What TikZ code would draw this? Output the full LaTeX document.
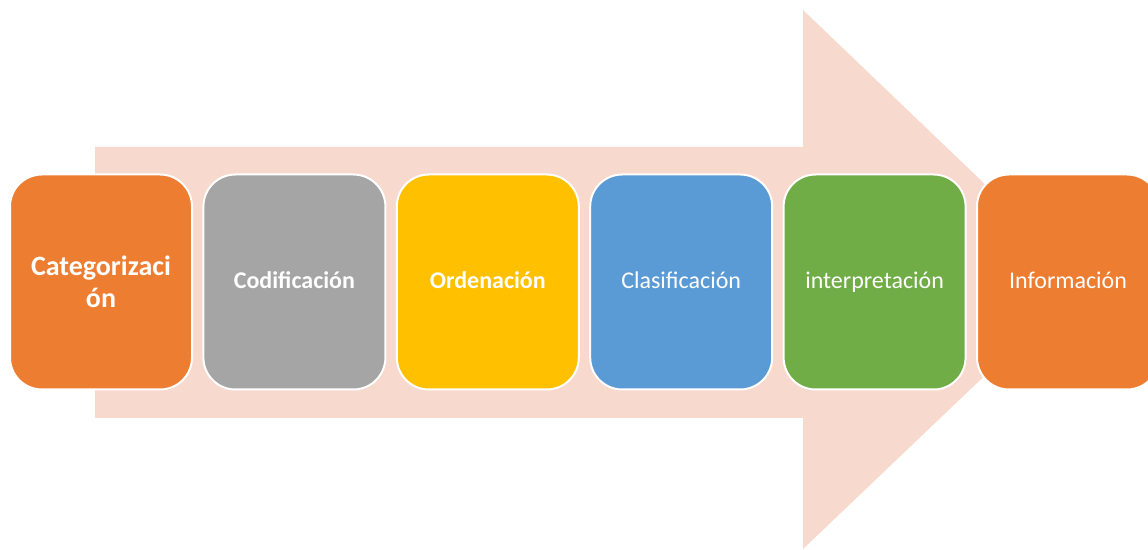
\documentclass[tikz,border=0pt]{standalone}
\usepackage{fontspec}
\setmainfont{Carlito}
\usetikzlibrary{positioning}
\definecolor{arrowpink}{HTML}{F8D9CE}
\definecolor{orangebox}{HTML}{ED7D31}
\definecolor{graybox}{HTML}{A5A5A5}
\definecolor{yellowbox}{HTML}{FFC000}
\definecolor{bluebox}{HTML}{5B9BD5}
\definecolor{greenbox}{HTML}{70AD47}

\begin{document}
\begin{tikzpicture}[x=1pt,y=1pt,node distance=9.4pt,
    stage/.style={rounded corners=32pt,draw=white,line width=2pt,
        minimum width=182pt,minimum height=215pt,inner sep=0pt,
        text height=19pt,text depth=5pt,
        text=white,align=center,font=\fontsize{24}{29}\selectfont},
    boldstage/.style={stage,font=\fontsize{24}{29}\selectfont\bfseries}]
    \useasboundingbox (0,0) rectangle (1148,549);
    \clip (0,0) rectangle (1148,549);

    % big arrow behind the stages
    \fill[arrowpink] (95,131) -- (803,131) -- (803,0) -- (1085,269)
        -- (803,539) -- (803,402) -- (95,402) -- cycle;

    \node[boldstage,fill=orangebox,text height=,text depth=,
        font=\fontsize{28}{32}\selectfont\bfseries] (cat) at (101,267) {Categorizaci\\ón};
    \node[boldstage,fill=graybox,right=of cat] (cod) {Codificación};
    \node[boldstage,fill=yellowbox,right=of cod] (ord) {Ordenación};
    \node[stage,fill=bluebox,right=of ord] (cla) {Clasificación};
    \node[stage,fill=greenbox,right=of cla] (int) {interpretación};
    \node[stage,fill=orangebox,right=of int] (inf) {Información};
\end{tikzpicture}
\end{document}
